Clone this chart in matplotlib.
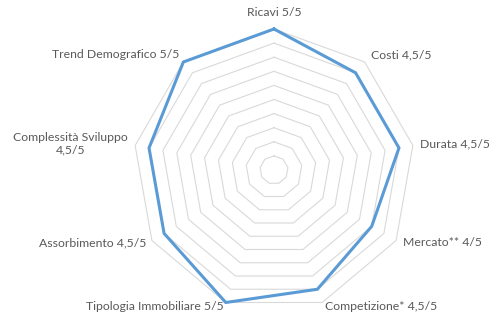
import numpy as np
import matplotlib
matplotlib.use("Agg")
import matplotlib.pyplot as plt

# categories, clockwise from the top
categories = ["Ricavi 5/5", "Costi 4,5/5", "Durata 4,5/5", "Mercato** 4/5",
              "Competizione* 4,5/5", "Tipologia Immobiliare 5/5",
              "Assorbimento 4,5/5", "Complessità Sviluppo\n4,5/5",
              "Trend Demografico 5/5"]
scores = [5, 4.5, 4.5, 4, 4.5, 5, 4.5, 4.5, 5]
rings = [0.5, 1, 1.5, 2, 2.5, 3, 3.5, 4, 4.5, 5]

# label placement (pixel offsets from outer vertex, alignment)
label_offsets = [(0, 17), (6, 7), (7, 2), (7, -2), (3, -4),
                 (-2, -4), (-6, -2), (-7, 2), (-4, 7)]
label_ha = ["center", "left", "left", "left", "left",
            "right", "right", "right", "right"]

n = len(categories)
theta = np.arange(n) * 2 * np.pi / n
theta_closed = np.append(theta, theta[0])

fig = plt.figure(figsize=(4.98, 3.26), dpi=100)
ax = fig.add_axes([133 / 498, 15 / 326, 282 / 498, 282 / 326], projection="polar")
ax.set_theta_offset(np.pi / 2)
ax.set_theta_direction(-1)
ax.set_ylim(0, 5)
ax.grid(False)
ax.set_xticks([])
ax.set_yticks([])
ax.spines["polar"].set_visible(False)
ax.patch.set_visible(False)

grid_col = "#D9D9D9"
for r in rings:
    ax.plot(theta_closed, [r] * (n + 1), color=grid_col, lw=0.8, clip_on=False, zorder=1)

vals = scores + scores[:1]
ax.plot(theta_closed, vals, color="#5B9BD5", lw=2.2, clip_on=False, zorder=3,
        solid_joinstyle="miter")

for t, lab, off, ha in zip(theta, categories, label_offsets, label_ha):
    ax.annotate(lab, xy=(t, 5), xytext=off, textcoords="offset pixels",
                ha=ha, va="center", multialignment="center",
                fontsize=8.8, color="#595959", family=["Lato", "DejaVu Sans"],
                annotation_clip=False)

fig.savefig("out.png", dpi=100)
